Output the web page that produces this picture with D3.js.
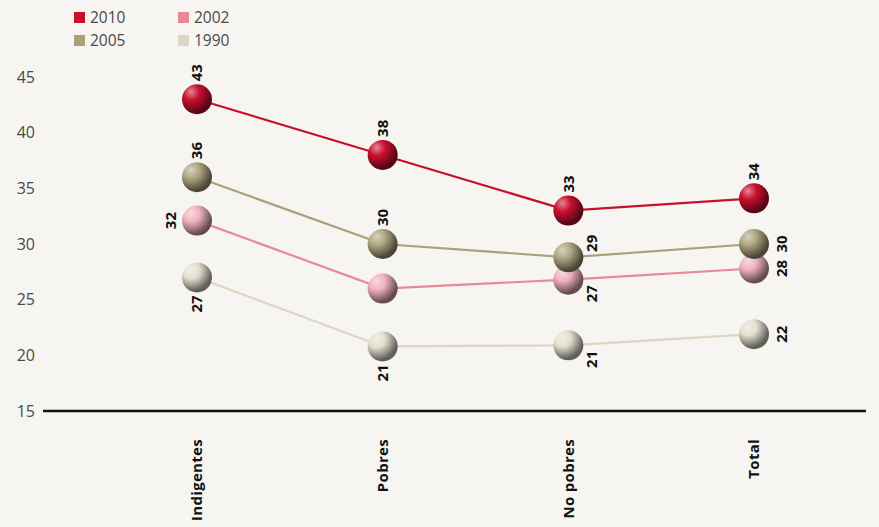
<!DOCTYPE html>
<html>
<head>
<meta charset="utf-8">
<script src="https://cdnjs.cloudflare.com/ajax/libs/d3/7.8.5/d3.min.js"></script>
<style>
  html, body { margin: 0; padding: 0; background: #f7f5f1; }
  svg { display: block; }
</style>
</head>
<body>
<svg id="chart"></svg>
<script>
// categories and series values
var categories = ["Indigentes", "Pobres", "No pobres", "Total"];
var years = ["2010", "2005", "2002", "1990"];
var v2010 = [43, 38, 33, 34.1];
var v2005 = [36, 30, 28.8, 30];
var v2002 = [32.1, 26, 26.8, 27.8];
var v1990 = [27, 20.8, 20.9, 21.9];
var yTicks = [15, 20, 25, 30, 35, 40, 45];

// where each value label sits relative to its ball (null = no label)
var labelPlace = {
  "2010": ["top", "top", "top", "top"],
  "2005": ["top", "top", "upright", "right"],
  "2002": ["left", null, "downright", "right"],
  "1990": ["bottom", "bottom", "downright", "right"]
};

var colors = { "2010": "#c8102e", "2005": "#aaa079", "2002": "#e68a96", "1990": "#dbd7c2" };
var ballColors = { "2010": "#c8102e", "2005": "#b0a683", "2002": "#f0b3bf", "1990": "#e2dfcf" };
var series = [
  { year: "2010", values: v2010 },
  { year: "2005", values: v2005 },
  { year: "2002", values: v2002 },
  { year: "1990", values: v1990 }
];

var width = 879, height = 527;
var svg = d3.select("#chart").attr("width", width).attr("height", height);

svg.append("rect").attr("width", width).attr("height", height).attr("fill", "#f7f5f1");

// scales
var x = d3.scalePoint().domain(categories).range([197, 754]);
var y = d3.scaleLinear().domain([15, 45]).range([411, 77]);

// gradients for the balls
var defs = svg.append("defs");
years.forEach(function (yr) {
  var base = d3.color(ballColors[yr]);
  var g = defs.append("radialGradient")
    .attr("id", "ball" + yr)
    .attr("cx", "32%").attr("cy", "28%").attr("r", "80%")
    .attr("fx", "30%").attr("fy", "25%");
  g.append("stop").attr("offset", "0%").attr("stop-color", d3.interpolateRgb(base, "#fff")(0.5));
  g.append("stop").attr("offset", "35%").attr("stop-color", base.formatHex());
  g.append("stop").attr("offset", "55%").attr("stop-color", base.darker(0.7).formatHex());
  g.append("stop").attr("offset", "85%").attr("stop-color", base.darker(2.4).formatHex());
});

// y tick labels
svg.append("g")
  .selectAll("text")
  .data(yTicks)
  .enter().append("text")
  .attr("x", 35)
  .attr("y", function (d) { return y(d); })
  .attr("dy", "0.35em")
  .attr("text-anchor", "end")
  .attr("font-family", "'Open Sans', sans-serif")
  .attr("font-size", 16)
  .attr("fill", "#4a4a4a")
  .text(function (d) { return d; });

// baseline
svg.append("line")
  .attr("x1", 43).attr("x2", 866)
  .attr("y1", y(15)).attr("y2", y(15))
  .attr("stroke", "#111").attr("stroke-width", 2.5);

// category labels (rotated)
svg.append("g")
  .selectAll("text")
  .data(categories)
  .enter().append("text")
  .attr("transform", function (d) { return "translate(" + x(d) + ",439) rotate(-90)"; })
  .attr("dy", "0.35em")
  .attr("text-anchor", "end")
  .attr("font-family", "'Open Sans', sans-serif")
  .attr("font-weight", "bold")
  .attr("font-size", 15)
  .attr("letter-spacing", 0.3)
  .attr("fill", "#111")
  .text(function (d) { return d; });

// lines, drawn back to front
var line = d3.line()
  .x(function (d, i) { return x(categories[i]); })
  .y(function (d) { return y(d); });

var drawOrder = series.slice().reverse();

svg.append("g")
  .selectAll("path")
  .data(drawOrder)
  .enter().append("path")
  .attr("d", function (d) { return line(d.values); })
  .attr("fill", "none")
  .attr("stroke", function (d) { return colors[d.year]; })
  .attr("stroke-width", 2.2);

// balls
var balls = svg.append("g");
drawOrder.forEach(function (s) {
  balls.selectAll(null)
    .data(s.values)
    .enter().append("circle")
    .attr("cx", function (d, i) { return x(categories[i]); })
    .attr("cy", function (d) { return y(d); })
    .attr("r", 15)
    .attr("fill", "url(#ball" + s.year + ")");
});

// value labels
var offsets = {
  top:       { dx: 0,  dy: -18, anchor: "start" },
  bottom:    { dx: 0,  dy: 18,  anchor: "end" },
  left:      { dx: -26, dy: 0,  anchor: "middle" },
  right:     { dx: 28, dy: 0,   anchor: "middle" },
  upright:   { dx: 23, dy: -14, anchor: "middle" },
  downright: { dx: 23, dy: 14,  anchor: "middle" }
};
var labels = svg.append("g");
series.forEach(function (s) {
  s.values.forEach(function (v, i) {
    var place = labelPlace[s.year][i];
    if (!place) return;
    var o = offsets[place];
    labels.append("text")
      .attr("transform", "translate(" + (x(categories[i]) + o.dx) + "," + (y(v) + o.dy) + ") rotate(-90)")
      .attr("dy", "0.35em")
      .attr("text-anchor", o.anchor)
      .attr("font-family", "'Open Sans', sans-serif")
      .attr("font-weight", "bold")
      .attr("font-size", 15)
      .attr("fill", "#111")
      .text(Math.round(v));
  });
});

// legend
var legendOrder = ["2010", "2002", "2005", "1990"];
var legend = svg.append("g");
legendOrder.forEach(function (yr, i) {
  var lx = 74 + (i % 2) * 104, ly = 12 + Math.floor(i / 2) * 23;
  legend.append("rect")
    .attr("x", lx).attr("y", ly)
    .attr("width", 11).attr("height", 11)
    .attr("fill", colors[yr]);
  legend.append("text")
    .attr("x", lx + 16).attr("y", ly + 6)
    .attr("dy", "0.35em")
    .attr("font-family", "'Open Sans', sans-serif")
    .attr("font-size", 15.5)
    .attr("fill", "#4a4a4a")
    .text(yr);
});
</script>
</body>
</html>
